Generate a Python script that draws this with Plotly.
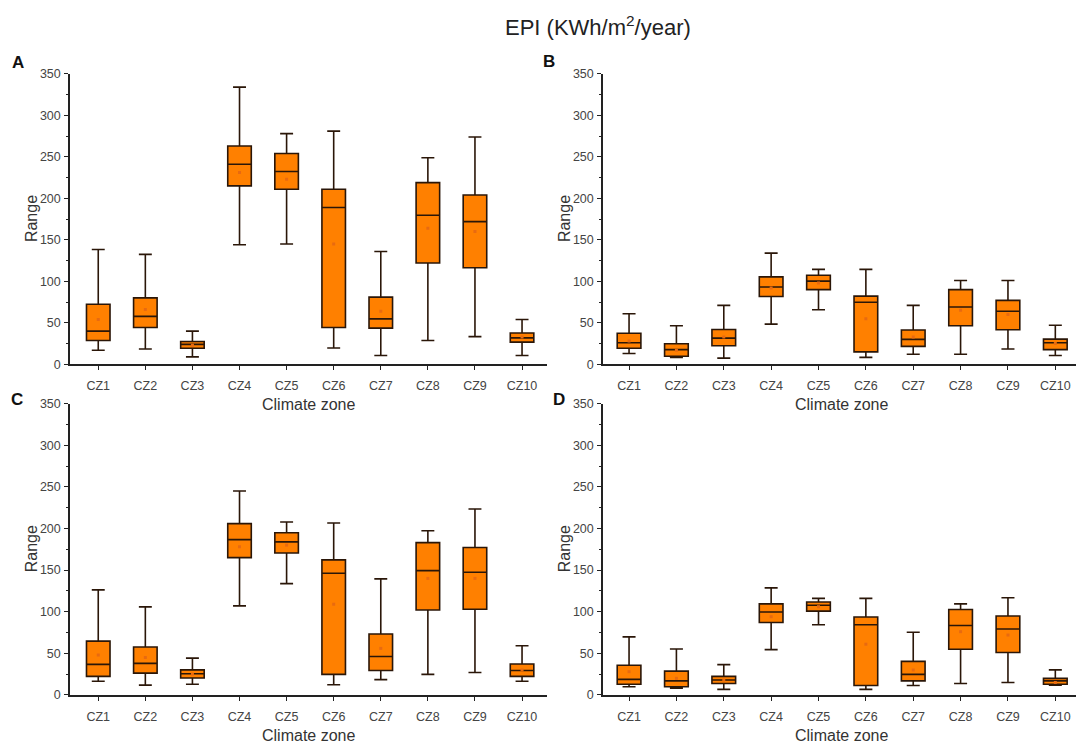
import plotly.graph_objects as go

zones = ["CZ1", "CZ2", "CZ3", "CZ4", "CZ5", "CZ6", "CZ7", "CZ8", "CZ9", "CZ10"]

# panel A
a_lower = [17, 18.5, 9, 144, 145, 19.7, 10.6, 28.7, 33.4, 10.6]
a_q1 = [28.7, 44.4, 19.3, 215, 211, 44.4, 43.6, 122, 116.4, 26.7]
a_median = [40, 57.8, 24, 241, 232.4, 189, 54.7, 179.7, 172, 31.9]
a_q3 = [72.4, 80, 27.5, 263, 254, 211, 81, 219, 204, 37.8]
a_upper = [138.4, 132.5, 40, 334, 278, 281, 136, 249, 274, 54]
a_mean = [54, 66, 23, 231, 223, 145, 64, 164, 160, 33]

# panel B
b_lower = [13, 8.3, 7.5, 48.4, 65.7, 8.3, 12.2, 12.2, 18.5, 10.6]
b_q1 = [19.3, 9.8, 22.4, 81.8, 90, 15, 21.6, 46.4, 41.7, 17.7]
b_median = [26, 17.7, 31.5, 93.2, 100.3, 74.7, 30, 69, 64, 26]
b_q3 = [37.4, 24.8, 42, 105.4, 107.4, 82.2, 41.3, 90, 77, 30.3]
b_upper = [61, 46.4, 71, 134, 114.4, 114.4, 71, 101, 101, 47]
b_mean = [28, 17, 33, 92, 98, 55, 33, 65, 60, 25]

# panel C
c_lower = [16.5, 11.8, 12.9, 107, 133.7, 12.2, 18.4, 24.7, 27, 16.5]
c_q1 = [22.3, 26.3, 20.4, 165, 170.5, 24.7, 29.4, 102, 103, 22.3]
c_median = [36.8, 38, 25.5, 186.6, 183.9, 146.2, 46.3, 149.4, 147.4, 29.4]
c_q3 = [64.7, 57.6, 30.2, 205.8, 194.8, 162.3, 73.3, 183, 177.2, 37.2]
c_upper = [126.2, 105.8, 44.3, 245, 207.8, 206.6, 139.5, 197.2, 223.4, 59.2]
c_mean = [48, 45, 25, 178, 180, 109, 56, 140, 140, 30]

# panel D
d_lower = [9.8, 8.2, 6.7, 54.5, 84.3, 6.7, 11.4, 13.7, 14.9, 11.8]
d_q1 = [12.9, 9.8, 13.7, 87, 100.7, 11.4, 16.9, 54.9, 51, 12.9]
d_median = [18.8, 16.9, 18, 99.6, 107.8, 84.3, 24.7, 83.5, 79.2, 16.9]
d_q3 = [35.7, 28.6, 22.3, 109.4, 111.7, 93.7, 40.4, 102.7, 94.9, 20]
d_upper = [69.8, 55.3, 36.5, 128.6, 116, 116, 75.3, 109.4, 116.8, 30.2]
d_mean = [28, 20, 18, 94, 106, 61, 30, 76, 72, 15]

panels = [
    ("A", a_lower, a_q1, a_median, a_q3, a_upper, a_mean),
    ("B", b_lower, b_q1, b_median, b_q3, b_upper, b_mean),
    ("C", c_lower, c_q1, c_median, c_q3, c_upper, c_mean),
    ("D", d_lower, d_q1, d_median, d_q3, d_upper, d_mean),
]

# the page body adds an 8px margin, so the figure is made smaller and
# all page positions below are shifted by OFF
OFF = 8
W, H = 1084 - OFF, 753 - OFF
# pixel box of each plot area on the page: left, right, top, bottom
areas = [(70, 547, 68, 364), (603, 1079, 68, 364),
         (70, 547, 404, 701), (603, 1079, 404, 701)]
xranges = [[-0.6, 9.53], [-0.55, 9.5], [-0.6, 9.53], [-0.55, 9.5]]
# panel letter centres (page px)
letter_pos = [(18, 56), (549, 55), (17, 400), (559, 400)]

fig = go.Figure()
layout = {}
annotations = []


def px_x(v):
    return (v - OFF) / W


def px_y(v):
    return 1 - (v - OFF) / H


for i, (label, lo, q1, med, q3, up, mean) in enumerate(panels):
    n = "" if i == 0 else str(i + 1)
    fig.add_trace(go.Box(
        x=zones, lowerfence=lo, q1=q1, median=med, q3=q3, upperfence=up,
        width=0.5, whiskerwidth=0.55,
        fillcolor="#FF8000", line=dict(color="#2a1608", width=1.6),
        boxpoints=False, hoverinfo="y",
        xaxis="x" + n, yaxis="y" + n, showlegend=False,
    ))
    # faint mean markers inside the boxes
    fig.add_trace(go.Scatter(
        x=zones, y=mean, mode="markers",
        marker=dict(symbol="square", size=3, color="#E86A10"),
        xaxis="x" + n, yaxis="y" + n, showlegend=False, hoverinfo="skip",
    ))

    l, r, t, b = areas[i]
    layout["xaxis" + n] = dict(
        domain=[px_x(l), min(px_x(r), 1)], anchor="y" + n,
        range=xranges[i], showline=True, linecolor="#222", linewidth=1.5,
        ticks="outside", ticklen=4, tickcolor="#222", ticklabelstandoff=5,
        tickfont=dict(size=12.5, color="#444"), showgrid=False, zeroline=False,
    )
    layout["yaxis" + n] = dict(
        domain=[px_y(b), px_y(t)], anchor="x" + n,
        range=[0, 350], dtick=50, showline=True, linecolor="#222", linewidth=1.5,
        ticks="outside", ticklen=4, tickcolor="#222", ticklabelstandoff=1,
        minor=dict(dtick=25, ticks="outside", ticklen=2, tickcolor="#222"),
        tickfont=dict(size=12.5, color="#444"), showgrid=False, zeroline=False,
    )
    # axis titles
    annotations.append(dict(
        text="Climate zone", x=px_x((l + r) / 2), y=px_y(b + 41),
        xref="paper", yref="paper", showarrow=False,
        xanchor="center", yanchor="middle", font=dict(size=16, color="#333"),
    ))
    annotations.append(dict(
        text="Range", x=px_x(l - 39), y=px_y((t + b) / 2), textangle=-90,
        xref="paper", yref="paper", showarrow=False,
        xanchor="center", yanchor="middle", font=dict(size=16, color="#333"),
    ))
    lx, ly = letter_pos[i]
    annotations.append(dict(
        text="<b>" + label + "</b>", x=px_x(lx), y=px_y(ly),
        xref="paper", yref="paper", showarrow=False,
        xanchor="center", yanchor="middle", font=dict(size=17, color="#111"),
    ))

annotations.append(dict(
    text="EPI (KWh/m<sup>2</sup>/year)", x=px_x(598), y=px_y(19),
    xref="paper", yref="paper", showarrow=False,
    xanchor="center", yanchor="middle", font=dict(size=22, color="#222"),
))

fig.update_layout(
    width=W, height=H,
    margin=dict(l=0, r=0, t=0, b=0),
    plot_bgcolor="white", paper_bgcolor="white",
    font=dict(family="Liberation Sans, Arial, sans-serif"),
    annotations=annotations,
    **layout,
)

fig.write_html("out.html")
